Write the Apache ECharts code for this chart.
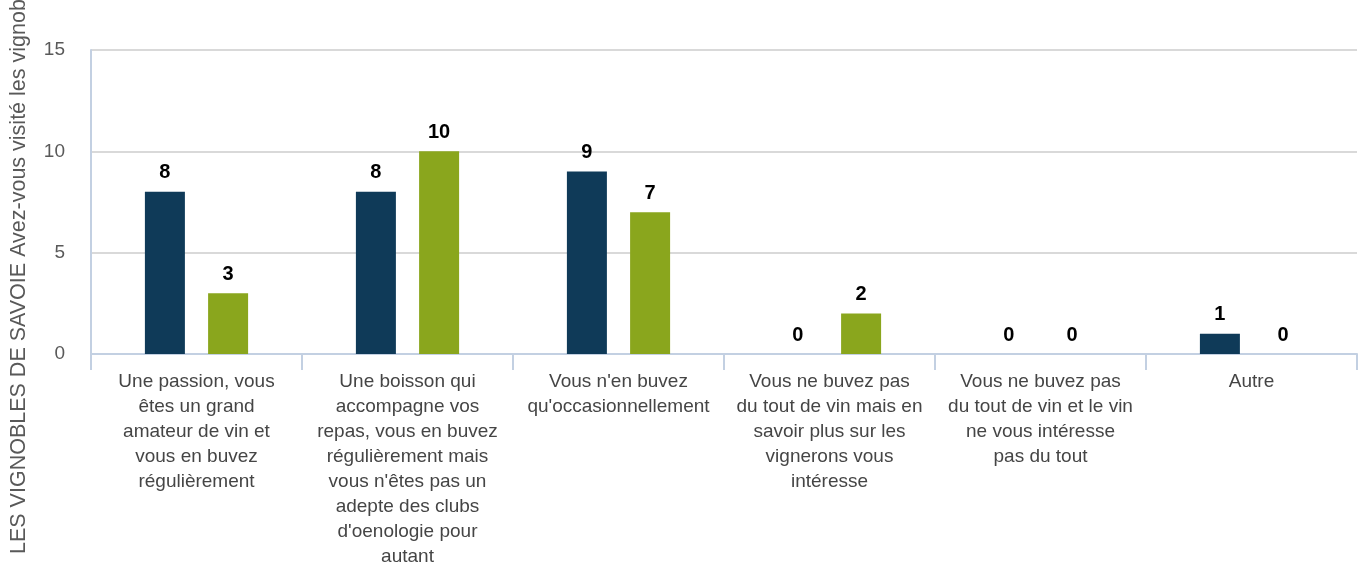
<!DOCTYPE html>
<html>
<head>
<meta charset="utf-8">
<script src="https://cdn.jsdelivr.net/npm/echarts@6/dist/echarts.min.js"></script>
<style>
  html, body { margin: 0; padding: 0; background: #fff; }
  #chart { width: 1367px; height: 564px; }
</style>
</head>
<body>
<div id="chart"></div>
<script>
// catégories (axe X)
const categories = [
  "Une passion, vous\nêtes un grand\namateur de vin et\nvous en buvez\nrégulièrement",
  "Une boisson qui\naccompagne vos\nrepas, vous en buvez\nrégulièrement mais\nvous n'êtes pas un\nadepte des clubs\nd'oenologie pour\nautant",
  "Vous n'en buvez\nqu'occasionnellement",
  "Vous ne buvez pas\ndu tout de vin mais en\nsavoir plus sur les\nvignerons vous\nintéresse",
  "Vous ne buvez pas\ndu tout de vin et le vin\nne vous intéresse\npas du tout",
  "Autre"
];
// valeurs
const ouiValues = [8, 8, 9, 0, 0, 1];
const nonValues = [3, 10, 7, 2, 0, 0];
const yTicks = { min: 0, max: 15, interval: 5 };
const yName = "LES VIGNOBLES DE SAVOIE Avez-vous visité les vignobles de Savoie ?";

const labelStyle = {
  show: true,
  position: 'top',
  distance: 9,
  color: '#000',
  fontWeight: 'bold',
  fontSize: 20,
  fontFamily: 'Liberation Sans'
};

let myChart = echarts.init(document.getElementById('chart'));
myChart.setOption({
  animation: false,
  textStyle: { fontFamily: 'Liberation Sans' },
  grid: { left: 91, right: 10, top: 50, bottom: 210, containLabel: false, outerBoundsMode: 'none' },
  graphic: [{
    type: 'text',
    x: 19,
    y: 554,
    rotation: Math.PI / 2,
    style: {
      text: yName,
      fill: '#595959',
      fontSize: 21.5,
      fontFamily: 'Liberation Sans',
      textAlign: 'left',
      textVerticalAlign: 'middle'
    }
  }],
  xAxis: {
    type: 'category',
    data: categories,
    axisLine: { show: true, lineStyle: { color: '#c3d0e2', width: 2 } },
    axisTick: { show: true, length: 16, alignWithLabel: false, lineStyle: { color: '#c3d0e2', width: 2 } },
    axisLabel: {
      interval: 0,
      color: '#454545',
      fontSize: 19,
      lineHeight: 25,
      margin: 15,
      align: 'center',
      verticalAlign: 'top'
    }
  },
  yAxis: {
    type: 'value',
    min: yTicks.min,
    max: yTicks.max,
    interval: yTicks.interval,
    axisLine: { show: true, lineStyle: { color: '#c3d0e2', width: 2 } },
    axisTick: { show: false },
    axisLabel: { color: '#595959', fontSize: 19, margin: 26 },
    splitLine: { show: true, lineStyle: { color: '#d9d9d9', width: 2 } }
  },
  series: [{
    name: 'Oui',
    type: 'bar',
    data: ouiValues,
    barWidth: 40,
    barGap: '58%',
    itemStyle: { color: '#0f3a58' },
    label: labelStyle
  }, {
    name: 'Non',
    type: 'bar',
    data: nonValues,
    barWidth: 40,
    itemStyle: { color: '#8aa61d' },
    label: labelStyle
  }]
});
</script>
</body>
</html>
